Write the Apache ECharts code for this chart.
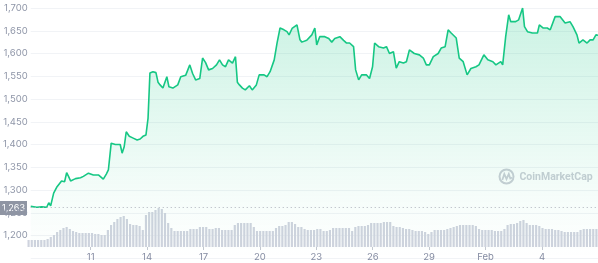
<!DOCTYPE html>
<html><head><meta charset="utf-8">
<script src="https://cdn.jsdelivr.net/npm/echarts@6/dist/echarts.min.js"></script>
<style>html,body{margin:0;padding:0;background:#fff}#c{width:598px;height:263px}</style>
</head><body><div id="c"></div>
<script>
// time in days (Jan d = d, Feb d = 31 + d)
const priceDays = [7.81,8.13,8.40,8.66,8.77,8.87,9.03,9.19,9.29,9.45,9.61,9.72,9.82,9.93,10.19,10.46,10.61,10.88,11.14,11.41,11.51,11.67,11.83,11.94,12.09,12.31,12.57,12.67,12.78,12.89,13.05,13.26,13.47,13.63,13.78,13.94,14.05,14.15,14.31,14.47,14.58,14.69,14.84,15.05,15.16,15.37,15.63,15.79,16.05,16.27,16.42,16.58,16.80,16.95,17.11,17.27,17.48,17.69,17.85,18.01,18.17,18.33,18.54,18.70,18.80,18.91,19.07,19.22,19.44,19.59,19.81,19.96,20.22,20.38,20.54,20.76,20.91,21.07,21.28,21.44,21.55,21.71,21.97,22.13,22.23,22.49,22.76,22.92,23.02,23.18,23.45,23.66,23.82,23.98,24.25,24.45,24.61,24.77,24.98,25.09,25.25,25.41,25.67,25.83,25.99,26.10,26.31,26.57,26.73,26.89,27.10,27.25,27.41,27.63,27.79,27.95,28.21,28.48,28.69,28.85,29.01,29.22,29.48,29.64,29.85,30.01,30.17,30.44,30.60,30.81,31.02,31.22,31.49,31.65,31.91,32.12,32.39,32.55,32.81,32.91,33.07,33.23,33.34,33.60,33.76,33.97,34.07,34.23,34.49,34.76,34.86,35.07,35.28,35.44,35.70,35.97,36.23,36.49,36.65,36.86,36.97,37.18,37.40,37.56,37.72,37.87,37.98];
const priceValues = [1264,1262,1263,1262,1272,1265,1293,1306,1303,1320,1318,1338,1330,1320,1325,1327,1330,1337,1333,1333,1333,1324,1335,1344,1403,1400,1400,1381,1395,1428,1418,1414,1410,1412,1418,1421,1458,1557,1560,1558,1537,1531,1524,1549,1527,1524,1531,1549,1552,1575,1556,1542,1545,1590,1580,1564,1567,1575,1586,1575,1571,1586,1579,1593,1537,1531,1524,1520,1529,1520,1531,1553,1553,1549,1560,1586,1623,1656,1652,1648,1641,1655,1663,1630,1625,1629,1641,1656,1619,1637,1637,1633,1625,1633,1637,1629,1623,1623,1615,1564,1542,1553,1553,1545,1571,1623,1615,1612,1615,1600,1604,1568,1582,1579,1582,1608,1600,1597,1590,1575,1575,1593,1600,1612,1615,1652,1645,1634,1590,1582,1553,1567,1571,1575,1597,1586,1582,1575,1582,1575,1637,1685,1670,1670,1674,1700,1659,1648,1645,1645,1663,1656,1656,1652,1681,1681,1667,1670,1659,1641,1623,1630,1623,1630,1630,1641,1640];
// 4-hour volume buckets (billions)
const volumeValues = [3.5,3.5,3.5,3.5,3.5,3.5,4,5,6,7.5,8.5,9.5,10,9,8,7.5,7,7,7,7,7,6.5,6.5,6,6,8.5,11,12.5,14,15,15.5,14,11.5,11,11,10.5,8.5,16,17.5,17.5,18.5,19.5,19,17,12,9.5,8,8,8,8,8,9,9,9,10,10,10,9,9,9.5,9.5,8.5,8.5,8.5,8.5,11,12,12,12,12,12,10,8,8,8,8,8,8,9.5,10.5,10.5,11,12.5,12.5,11.5,10,10,9,8.5,8.5,8.5,9,9,8,8,8.5,9.5,9.5,9.5,9.5,9.5,9.5,8,10,10.5,10.5,10.5,11,12,12,12,12,12.5,12.5,12.5,10.5,10,10,9.5,9,9,8.5,8,8,8,7.5,6.5,7.5,8.5,8.5,8.5,8.5,9,9.5,10,10.5,11,11,11,11,11,10.5,9,8.5,8.5,8.5,8.5,8,8,8,9,11,11.5,11.5,12,13,13.5,12,11,11,11,10.5,9.5,9,9,9,8.5,8.5,8,7.5,7.5,7.5,7.5,7.5,8.5,9,9,9,9,9];
const volumeBuckets = volumeValues.map((v, i) => 'b' + i);
const xTickDays = [11,14,17,20,23,26,29,32,35];
const xTickLabels = ['11','14','17','20','23','26','29','Feb','4'];
const openPrice = 1263;

const chart = echarts.init(document.getElementById('c'), null, {renderer: 'canvas'});
const fontFam = 'Inter, Roboto, "Noto Sans", sans-serif';
chart.setOption({
  animation: false,
  grid: [
    {left: 27, right: 0, top: 8, bottom: 4.75},
    {left: 27, right: 0, top: 197, bottom: 16}
  ],
  xAxis: [
    {type: 'value', gridIndex: 0, min: 7.81, max: 37.98, offset: -11.25,
     axisLine: {show: false}, splitLine: {show: false},
     axisTick: {show: true, customValues: xTickDays, length: 3, lineStyle: {color: '#c4c8d0'}},
     axisLabel: {show: true, customValues: xTickDays, margin: 5, color: '#858ca2', fontSize: 9.5, fontFamily: fontFam,
       formatter: v => { const i = xTickDays.indexOf(Math.round(v)); return i >= 0 ? xTickLabels[i] : ''; }}},
    {type: 'category', gridIndex: 1, data: volumeBuckets, show: false, boundaryGap: true}
  ],
  yAxis: [
    {type: 'value', gridIndex: 0, min: 1150, max: 1700, interval: 50,
     axisLine: {show: false}, axisTick: {show: false},
     splitLine: {lineStyle: {color: '#f1f3f6', width: 1}},
     axisLabel: {margin: 3, color: '#8f96a8', fontSize: 9.5, fontFamily: fontFam,
       formatter: v => v < 1200 ? '' : v.toLocaleString('en-US')}},
    {type: 'value', gridIndex: 1, min: 0, max: 25, show: false}
  ],
  series: [
    {type: 'bar', xAxisIndex: 1, yAxisIndex: 1, data: volumeValues, barWidth: '68%',
     itemStyle: {color: '#cfd3de'}, silent: true, z: 3},
    {type: 'line', xAxisIndex: 0, yAxisIndex: 0, data: priceDays.map((d, i) => [d, priceValues[i]]),
     showSymbol: false, lineStyle: {color: '#16c784', width: 1.6}, z: 4,
     areaStyle: {color: new echarts.graphic.LinearGradient(0, 0, 0, 1, [
       {offset: 0, color: 'rgba(22,199,132,0.32)'},
       {offset: 0.75, color: 'rgba(22,199,132,0.06)'},
       {offset: 1, color: 'rgba(22,199,132,0.0)'}])},
     markLine: {silent: true, symbol: 'none', label: {show: false},
       lineStyle: {color: '#aeb3bd', type: [1, 3], width: 1},
       data: [{yAxis: openPrice}]}}
  ],
  graphic: [
    {type: 'group', left: 0, top: 201, z: 100, children: [
      {type: 'rect', shape: {x: 0, y: 0, width: 27, height: 14}, style: {fill: '#8f95a3'}},
      {type: 'text', x: 13.5, y: 7, style: {text: '1,263', fill: '#fff', fontSize: 9, fontFamily: fontFam, align: 'center', verticalAlign: 'middle'}}
    ]},
    {type: 'group', left: 497, top: 167, z: 100, children: [
      {type: 'circle', shape: {cx: 8, cy: 8, r: 7}, style: {fill: 'none', stroke: '#cbced6', lineWidth: 2}},
      {type: 'polyline', shape: {points: [[3.8, 11.5], [5.8, 5.5], [8, 10.5], [10.3, 5.5], [11.8, 10], [13.5, 9]]}, style: {fill: 'none', stroke: '#cbced6', lineWidth: 1.8}},
      {type: 'text', x: 21, y: 9, style: {text: 'CoinMarketCap', fill: '#cbced6', fontSize: 10.5, fontWeight: 'bold', fontFamily: 'Roboto, sans-serif', verticalAlign: 'middle'}}
    ]}
  ]
});
</script></body></html>
